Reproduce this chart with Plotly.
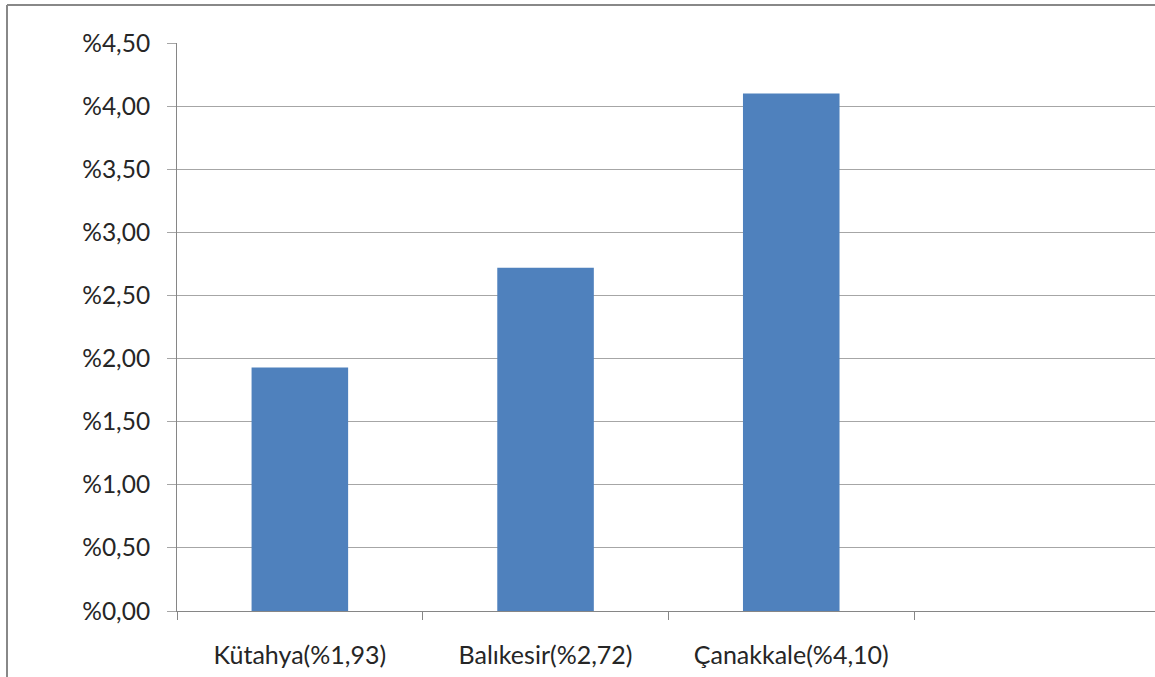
import plotly.graph_objects as go

categories = ["Kütahya(%1,93)", "Balıkesir(%2,72)", "Çanakkale(%4,10)", " "]
values = [1.93, 2.72, 4.10, None]
y_tickvals = [0, 0.5, 1.0, 1.5, 2.0, 2.5, 3.0, 3.5, 4.0, 4.5]
y_ticktext = ["%0,00", "%0,50", "%1,00", "%1,50", "%2,00", "%2,50", "%3,00", "%3,50", "%4,00", "%4,50"]

W, H = 1155, 677
L, R, T, B = 177, 0, 43, 66
pw, ph = W - L - R, H - T - B

def px_x(p):
    return (p - L) / pw

def px_y(p):
    return (H - B - p) / ph

fig = go.Figure()
fig.add_trace(go.Bar(
    x=categories, y=values,
    marker=dict(color="#4F81BD", line=dict(width=0)),
    width=0.393,
))

font_family = "Lato, 'Open Sans', sans-serif"

fig.update_layout(
    width=W, height=H,
    margin=dict(l=L, r=R, t=T, b=B, pad=0),
    paper_bgcolor="white", plot_bgcolor="white",
    showlegend=False,
    font=dict(family=font_family, size=24, color="#262626"),
)
fig.update_xaxes(
    type="category",
    range=[-0.5, -0.5 + pw / 245.7],
    tickson="boundaries",
    ticks="outside", ticklen=8, tickcolor="#868686", tickwidth=1,
    showline=True, linecolor="#868686", linewidth=1,
    showgrid=False, zeroline=False,
    tickfont=dict(size=25, color="#262626"),
    ticklabelstandoff=22,
    fixedrange=True,
)
fig.update_yaxes(
    range=[0, 4.5],
    tickvals=y_tickvals, ticktext=y_ticktext,
    ticks="outside", ticklen=9, tickcolor="#A6A6A6", tickwidth=1,
    showline=True, linecolor="#868686", linewidth=1,
    showgrid=True, gridcolor="#A6A6A6", gridwidth=1,
    zeroline=False,
    tickfont=dict(size=24.5, color="#262626"),
    ticklabelstandoff=12,
    fixedrange=True,
)

# outer chart frame (top and left edges)
fig.add_shape(type="line", xref="paper", yref="paper",
              x0=px_x(7), x1=px_x(W + 5), y0=px_y(5), y1=px_y(5),
              line=dict(color="#888888", width=2))
fig.add_shape(type="line", xref="paper", yref="paper",
              x0=px_x(7), x1=px_x(7), y0=px_y(5), y1=px_y(H + 5),
              line=dict(color="#888888", width=2))

fig.write_html("out.html")
